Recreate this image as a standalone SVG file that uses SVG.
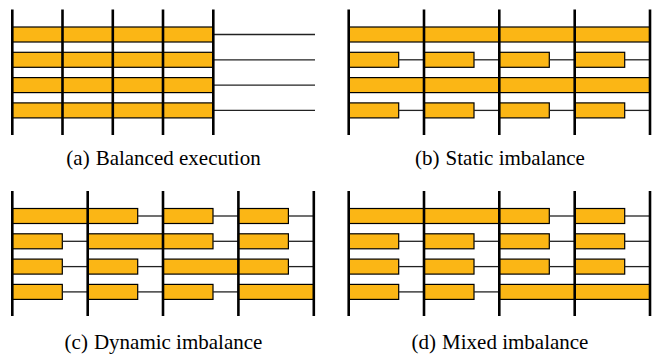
<svg xmlns="http://www.w3.org/2000/svg" width="654" height="356" viewBox="0 0 654 356">
  <style>
    .bar { fill: #FBB615; stroke: #000; stroke-width: 1.2; }
    .idle { stroke: #222; stroke-width: 1.3; fill: none; }
    .sync { stroke: #000; stroke-width: 2.6; fill: none; }
    .cap { font-family: "Liberation Serif", "Times New Roman", serif; font-size: 21px; fill: #000; text-anchor: middle; }
  </style>

  <!-- (a) Balanced execution: every process busy for the whole step -->
  <g id="panel-a">
    <g id="a-bars">
      <rect class="bar" x="12.3" y="27" width="201" height="15"/>
      <rect class="bar" x="12.3" y="52.3" width="201" height="15"/>
      <rect class="bar" x="12.3" y="77.6" width="201" height="15"/>
      <rect class="bar" x="12.3" y="102.9" width="201" height="15"/>
    </g>
    <g id="a-idle">
      <line class="idle" x1="213.3" y1="34.5" x2="315" y2="34.5"/>
      <line class="idle" x1="213.3" y1="59.8" x2="315" y2="59.8"/>
      <line class="idle" x1="213.3" y1="85.1" x2="315" y2="85.1"/>
      <line class="idle" x1="213.3" y1="110.4" x2="315" y2="110.4"/>
    </g>
    <g id="a-sync">
      <line class="sync" x1="12.3" y1="9.5" x2="12.3" y2="135"/>
      <line class="sync" x1="62.5" y1="9.5" x2="62.5" y2="135"/>
      <line class="sync" x1="112.8" y1="9.5" x2="112.8" y2="135"/>
      <line class="sync" x1="163" y1="9.5" x2="163" y2="135"/>
      <line class="sync" x1="213.3" y1="9.5" x2="213.3" y2="135"/>
    </g>
    <text class="cap" x="163.5" y="165">(a)<tspan dx="6">Balanced execution</tspan></text>
  </g>

  <!-- (b) Static imbalance: rows 2 and 4 always finish early -->
  <g id="panel-b">
    <g id="b-bars">
      <rect class="bar" x="348.7" y="27" width="301.3" height="15"/>
      <rect class="bar" x="348.7" y="77.6" width="301.3" height="15"/>
      <rect class="bar" x="348.7" y="52.3" width="50" height="15"/>
      <rect class="bar" x="424" y="52.3" width="50" height="15"/>
      <rect class="bar" x="499.3" y="52.3" width="50" height="15"/>
      <rect class="bar" x="574.7" y="52.3" width="50" height="15"/>
      <rect class="bar" x="348.7" y="102.9" width="50" height="15"/>
      <rect class="bar" x="424" y="102.9" width="50" height="15"/>
      <rect class="bar" x="499.3" y="102.9" width="50" height="15"/>
      <rect class="bar" x="574.7" y="102.9" width="50" height="15"/>
    </g>
    <g id="b-idle">
      <line class="idle" x1="398.7" y1="59.8" x2="424" y2="59.8"/>
      <line class="idle" x1="474" y1="59.8" x2="499.3" y2="59.8"/>
      <line class="idle" x1="549.3" y1="59.8" x2="574.7" y2="59.8"/>
      <line class="idle" x1="624.7" y1="59.8" x2="650" y2="59.8"/>
      <line class="idle" x1="398.7" y1="110.4" x2="424" y2="110.4"/>
      <line class="idle" x1="474" y1="110.4" x2="499.3" y2="110.4"/>
      <line class="idle" x1="549.3" y1="110.4" x2="574.7" y2="110.4"/>
      <line class="idle" x1="624.7" y1="110.4" x2="650" y2="110.4"/>
    </g>
    <g id="b-sync">
      <line class="sync" x1="348.7" y1="9.5" x2="348.7" y2="135"/>
      <line class="sync" x1="424" y1="9.5" x2="424" y2="135"/>
      <line class="sync" x1="499.3" y1="9.5" x2="499.3" y2="135"/>
      <line class="sync" x1="574.7" y1="9.5" x2="574.7" y2="135"/>
      <line class="sync" x1="650" y1="9.5" x2="650" y2="135"/>
    </g>
    <text class="cap" x="500" y="165">(b)<tspan dx="6">Static imbalance</tspan></text>
  </g>

  <!-- (c) Dynamic imbalance: the slow process changes every step -->
  <g id="panel-c">
    <g id="c-bars">
      <rect class="bar" x="12.3" y="208.5" width="75.4" height="15"/>
      <rect class="bar" x="87.7" y="208.5" width="50" height="15"/>
      <rect class="bar" x="163" y="208.5" width="50" height="15"/>
      <rect class="bar" x="238.4" y="208.5" width="50" height="15"/>
      <rect class="bar" x="12.3" y="233.8" width="50" height="15"/>
      <rect class="bar" x="87.7" y="233.8" width="75.3" height="15"/>
      <rect class="bar" x="163" y="233.8" width="50" height="15"/>
      <rect class="bar" x="238.4" y="233.8" width="50" height="15"/>
      <rect class="bar" x="12.3" y="259.1" width="50" height="15"/>
      <rect class="bar" x="87.7" y="259.1" width="50" height="15"/>
      <rect class="bar" x="163" y="259.1" width="75.4" height="15"/>
      <rect class="bar" x="238.4" y="259.1" width="50" height="15"/>
      <rect class="bar" x="12.3" y="284.4" width="50" height="15"/>
      <rect class="bar" x="87.7" y="284.4" width="50" height="15"/>
      <rect class="bar" x="163" y="284.4" width="50" height="15"/>
      <rect class="bar" x="238.4" y="284.4" width="75.4" height="15"/>
    </g>
    <g id="c-idle">
      <line class="idle" x1="137.7" y1="216" x2="163" y2="216"/>
      <line class="idle" x1="213" y1="216" x2="238.4" y2="216"/>
      <line class="idle" x1="288.4" y1="216" x2="313.8" y2="216"/>
      <line class="idle" x1="62.3" y1="241.3" x2="87.7" y2="241.3"/>
      <line class="idle" x1="213" y1="241.3" x2="238.4" y2="241.3"/>
      <line class="idle" x1="288.4" y1="241.3" x2="313.8" y2="241.3"/>
      <line class="idle" x1="62.3" y1="266.6" x2="87.7" y2="266.6"/>
      <line class="idle" x1="137.7" y1="266.6" x2="163" y2="266.6"/>
      <line class="idle" x1="288.4" y1="266.6" x2="313.8" y2="266.6"/>
      <line class="idle" x1="62.3" y1="291.9" x2="87.7" y2="291.9"/>
      <line class="idle" x1="137.7" y1="291.9" x2="163" y2="291.9"/>
      <line class="idle" x1="213" y1="291.9" x2="238.4" y2="291.9"/>
    </g>
    <g id="c-sync">
      <line class="sync" x1="12.3" y1="191" x2="12.3" y2="316"/>
      <line class="sync" x1="87.7" y1="191" x2="87.7" y2="316"/>
      <line class="sync" x1="163" y1="191" x2="163" y2="316"/>
      <line class="sync" x1="238.4" y1="191" x2="238.4" y2="316"/>
      <line class="sync" x1="313.8" y1="191" x2="313.8" y2="316"/>
    </g>
    <text class="cap" x="163.5" y="349">(c)<tspan dx="6">Dynamic imbalance</tspan></text>
  </g>

  <!-- (d) Mixed imbalance: static and dynamic effects combined -->
  <g id="panel-d">
    <g id="d-bars">
      <rect class="bar" x="348.7" y="208.5" width="150.6" height="15"/>
      <rect class="bar" x="499.3" y="208.5" width="50" height="15"/>
      <rect class="bar" x="574.7" y="208.5" width="50" height="15"/>
      <rect class="bar" x="348.7" y="233.8" width="50" height="15"/>
      <rect class="bar" x="424" y="233.8" width="50" height="15"/>
      <rect class="bar" x="499.3" y="233.8" width="50" height="15"/>
      <rect class="bar" x="574.7" y="233.8" width="50" height="15"/>
      <rect class="bar" x="348.7" y="259.1" width="50" height="15"/>
      <rect class="bar" x="424" y="259.1" width="50" height="15"/>
      <rect class="bar" x="499.3" y="259.1" width="50" height="15"/>
      <rect class="bar" x="574.7" y="259.1" width="50" height="15"/>
      <rect class="bar" x="348.7" y="284.4" width="50" height="15"/>
      <rect class="bar" x="424" y="284.4" width="50" height="15"/>
      <rect class="bar" x="499.3" y="284.4" width="150.7" height="15"/>
    </g>
    <g id="d-idle">
      <line class="idle" x1="549.3" y1="216" x2="574.7" y2="216"/>
      <line class="idle" x1="624.7" y1="216" x2="650" y2="216"/>
      <line class="idle" x1="398.7" y1="241.3" x2="424" y2="241.3"/>
      <line class="idle" x1="474" y1="241.3" x2="499.3" y2="241.3"/>
      <line class="idle" x1="549.3" y1="241.3" x2="574.7" y2="241.3"/>
      <line class="idle" x1="624.7" y1="241.3" x2="650" y2="241.3"/>
      <line class="idle" x1="398.7" y1="266.6" x2="424" y2="266.6"/>
      <line class="idle" x1="474" y1="266.6" x2="499.3" y2="266.6"/>
      <line class="idle" x1="549.3" y1="266.6" x2="574.7" y2="266.6"/>
      <line class="idle" x1="624.7" y1="266.6" x2="650" y2="266.6"/>
      <line class="idle" x1="398.7" y1="291.9" x2="424" y2="291.9"/>
      <line class="idle" x1="474" y1="291.9" x2="499.3" y2="291.9"/>
    </g>
    <g id="d-sync">
      <line class="sync" x1="348.7" y1="191" x2="348.7" y2="316"/>
      <line class="sync" x1="424" y1="191" x2="424" y2="316"/>
      <line class="sync" x1="499.3" y1="191" x2="499.3" y2="316"/>
      <line class="sync" x1="574.7" y1="191" x2="574.7" y2="316"/>
      <line class="sync" x1="650" y1="191" x2="650" y2="316"/>
    </g>
    <text class="cap" x="500" y="349">(d)<tspan dx="6">Mixed imbalance</tspan></text>
  </g>
</svg>
